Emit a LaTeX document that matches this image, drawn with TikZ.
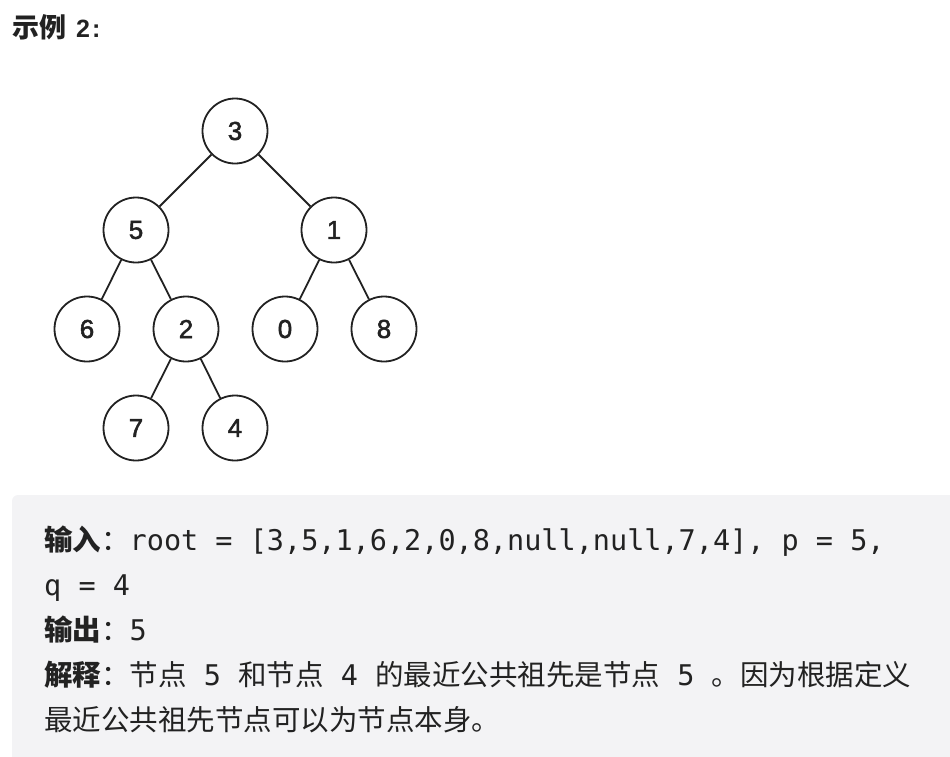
\documentclass[tikz,border=0pt]{standalone}
\usepackage{fontspec}
\setmainfont{Liberation Sans}
\setmonofont{DejaVu Sans Mono}
\newfontfamily\cjk{Noto Sans CJK SC}
\newfontfamily\nodefont{Liberation Sans}[FakeBold=2]
\usepackage{xcolor}
\definecolor{boxgray}{HTML}{F3F3F5}
\definecolor{ink}{HTML}{222222}

\begin{document}
\begin{tikzpicture}[x=1pt, y=-1pt,
		treenode/.style={circle, draw=ink, line width=1.8pt, fill=white, minimum size=65pt, inner sep=0pt, text=ink, font=\fontsize{26}{26}\selectfont\nodefont},
		textline/.style={anchor=base west, inner sep=0pt, text=ink, font=\fontsize{28.5}{28.5}\selectfont\ttfamily}]
			\useasboundingbox (0,0) rectangle (950,756);
			\clip (0,0) rectangle (950,756);

			% title
			\node [anchor=base west, inner sep=0pt, text=ink] (title) at (12,37) {{\fontsize{27}{27}\selectfont\cjk\bfseries 示例}\hspace{10pt}{\fontsize{25}{25}\selectfont\bfseries 2\hspace{2pt}:}};

			% tree
			\node [treenode] (n3) at (235,131) {3};
			\node [treenode] (n5) at (136,230) {5};
			\node [treenode] (n1) at (334,230) {1};
			\node [treenode] (n6) at (87,329) {6};
			\node [treenode] (n2) at (186,329) {2};
			\node [treenode] (n0) at (285,329) {0};
			\node [treenode] (n8) at (384,329) {8};
			\node [treenode] (n7) at (136,428) {7};
			\node [treenode] (n4) at (235,428) {4};

			\begin{scope}[draw=ink, line width=1.8pt]
				\foreach \a/\b in {n3/n5, n3/n1, n5/n6, n5/n2, n1/n0, n1/n8, n2/n7, n2/n4}
					\draw (\a) -- (\b);
			\end{scope}

			% example box
			\fill [boxgray, rounded corners=6pt] (12,495) rectangle (980,790);
			\node [textline] (input) at (44,550) {{\cjk\bfseries 输入}{\cjk ：}root = [3,5,1,6,2,0,8,null,null,7,4], p = 5,};
			\node [textline] (inputb) at (44,595) {q = 4};
			\node [textline] (output) at (44,640) {{\cjk\bfseries 输出}{\cjk ：}5};
			\node [textline] (explain) at (44,685) {{\cjk\bfseries 解释}{\cjk ：节点} 5 {\cjk 和节点} 4 {\cjk 的最近公共祖先是节点} 5 {\cjk 。因为根据定义}};
			\node [textline] (explainb) at (44,730) {{\cjk 最近公共祖先节点可以为节点本身。}};
		\end{tikzpicture}
\end{document}
